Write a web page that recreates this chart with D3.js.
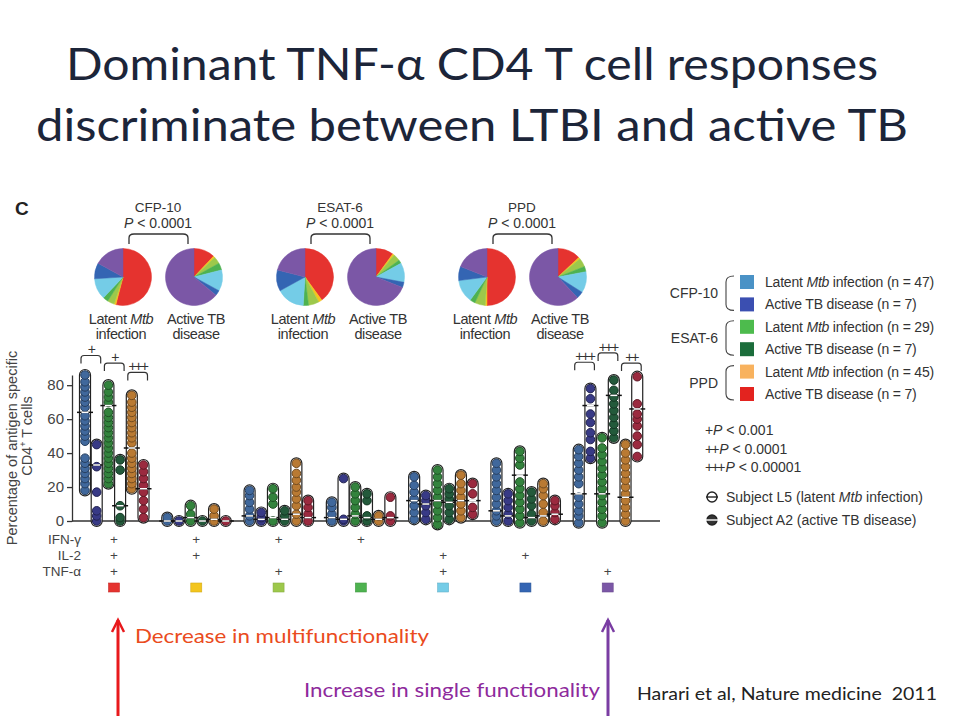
<!DOCTYPE html>
<html><head><meta charset="utf-8">
<script src="https://cdn.jsdelivr.net/npm/d3@7"></script>
<style>
body{margin:0;background:#fff}
svg{display:block}
text{font-family:"Liberation Sans",Arial,sans-serif}
</style>
</head><body>
<svg id="chart" width="960" height="720"></svg>
<script>
//## functional categories (x-axis groups) and their key squares
var groups = ["IFN+IL2+TNF", "IFN+IL2", "IFN+TNF", "IFN", "IL2+TNF", "IL2", "TNF"];
var groupColors = ["#e5332f", "#f3c51d", "#9dc84b", "#4eb250", "#74cce7", "#3465b3", "#7b57a6"];
var cytokines = ["IFN-γ", "IL-2", "TNF-α"];
var cytoPlus = [[1,1,1],[1,1,0],[1,0,1],[1,0,0],[0,1,1],[0,1,0],[0,0,1]];

//## six series per group: CFP-10 L/A, ESAT-6 L/A, PPD L/A
var dotColors = ["#40689c", "#383a86", "#33833d", "#235a3b", "#b97a33", "#9b2a3f"];
var legendColors = ["#4a92c6", "#3b4fb1", "#4dbb4d", "#1b6d3b", "#f8b25e", "#e3231f"];
var legendLabels = ["Latent Mtb infection (n = 47)", "Active TB disease (n = 7)",
                    "Latent Mtb infection (n = 29)", "Active TB disease (n = 7)",
                    "Latent Mtb infection (n = 45)", "Active TB disease (n = 7)"];
var antigens = ["CFP-10", "ESAT-6", "PPD"];

// [min, max, median] for each column, per group
var colRange = [
  [[18,86,64],[0,45,33],[22,80,68],[0,36,9],[19,74,43],[2,33,19]],
  [[0,2,0],[0,0,0],[0,9,2],[0,0,0],[0,7,1],[0,0,0]],
  [[0,18,3],[0,5,1],[0,19,2],[0,6,1],[0,34,4],[0,12,2]],
  [[0,11,2],[0,25,1],[0,20,3],[0,16,2],[0,3,1],[0,14,2]],
  [[1,26,12],[1,15,10],[-2,30,12],[1,19,11],[2,27,12],[4,22,12]],
  [[0,34,6],[0,16,3],[-1,41,27],[0,17,2],[0,22,3],[1,12,4]],
  [[-1,42,16],[37,78,68],[-1,49,16],[49,83,74],[0,45,14],[38,85,66]]
];
// visible dots for each column
var colPoints = [
  [[18,22,25,28,31,34,37,47,50,53,56,59,62,67,70,73,76,79,82,86],
   [0,3,6,17,32,45],
   [22,25,28,31,34,37,40,43,46,49,52,55,58,61,64,70,73,76,80],
   [0,2,9,30,36],
   [19,22,25,28,31,34,37,40,46,49,52,55,58,61,64,67,70,74],
   [2,7,12,17,21,25,29,33]],
  [[0,2],[0],[0,4,9],[0],[0,3,7],[0]],
  [[0,3,7,11,15,18],[0,2,5],[0,10,14,19],[0,3,6],[0,4,9,13,17,20,24,28,34],[0,4,8,12]],
  [[0,4,8,11],[0,1,25],[0,4,8,12,16,20],[0,3,12,16],[0,3],[0,3,14]],
  [[1,5,9,13,17,21,26],[1,5,9,12,15],[-2,2,6,10,14,18,22,26,30],[1,5,9,13,16,19],[2,6,10,14,18,22,27],[4,8,16,22]],
  [[0,3,6,10,14,18,22,26,30,34],[0,4,8,12,16],[-1,3,7,11,15,19,23,33,37,41],[0,4,9,13,17],[0,5,10,15,19,22],[1,5,9,12]],
  [[-1,3,6,10,14,22,26,30,34,38,42],[37,41,48,52,58,63,72,78],[-1,3,7,11,15,19,23,27,31,35,39,43,49],
   [49,53,57,61,65,69,73,77,83],[0,4,8,12,16,20,24,28,32,36,40,45],[38,45,50,56,60,63,69,85]]
];
// significance brackets: group, first column, label, level (in % units)
var sigGroup = [0, 0, 0, 6, 6, 6];
var sigCol = [0, 2, 4, 0, 2, 4];
var sigLabel = ["+", "+", "+++", "+++", "+++", "++"];
var sigLevel = [97.5, 93, 87.5, 93.5, 99, 93];

// pie shares, in category order (red, yellow, light green, green, cyan, blue, purple)
var pieLatent = [[54,1,4,3,12,9,17],[40,2,6,3,16,12,21],[50,1,6,3,13,8,19]];
var pieActive = [[12,1,4,4,12,3,64],[10,1,4,2,11,3,69],[13,1,5,3,12,4,62]];

var pValues = ["P < 0.001", "P < 0.0001", "P < 0.00001"];

var svg = d3.select("#chart");

//## title
var title = svg.append("g")
    .attr("font-family", "Lato, 'Open Sans', sans-serif")
    .attr("fill", "#1c2539")
    .attr("font-size", 45)
    .attr("text-anchor", "middle");
title.append("text").attr("x", 472).attr("y", 80)
    .attr("textLength", 812).attr("lengthAdjust", "spacingAndGlyphs")
    .style("font-family", "inherit")
    .text("Dominant TNF-α CD4 T cell responses");
title.append("text").attr("x", 472).attr("y", 141)
    .attr("textLength", 872).attr("lengthAdjust", "spacingAndGlyphs")
    .style("font-family", "inherit")
    .text("discriminate between LTBI and active TB");

svg.append("text").attr("x", 15).attr("y", 215)
    .attr("font-size", 19).attr("font-weight", "bold").attr("fill", "#222")
    .text("C");

//## pies
var pieX = d3.scalePoint().domain(antigens).range([158, 522]);
var pie = d3.pie().sort(null).value(function(d) { return d; });
var arc = d3.arc().innerRadius(0).outerRadius(28.5);
var pieCy = 277;

antigens.forEach(function(a, i) {
    var cxA = pieX(a);
    var g = svg.append("g").attr("fill", "#333").attr("font-size", 13.5).attr("text-anchor", "middle");
    g.append("text").attr("x", cxA).attr("y", 212).text(a);
    var pt = g.append("text").attr("x", cxA).attr("y", 228).attr("font-size", 14);
    pt.append("tspan").attr("font-style", "italic").text("P");
    pt.append("tspan").text(" < 0.0001");
    // bracket
    var x0 = cxA - 29, x1 = cxA + 30;
    g.append("path")
        .attr("d", "M" + x0 + ",244 L" + x0 + ",238 Q" + x0 + ",234 " + (x0 + 5) + ",234 L" + (x1 - 5) + ",234 Q" + x1 + ",234 " + x1 + ",238 L" + x1 + ",244")
        .attr("fill", "none").attr("stroke", "#333").attr("stroke-width", 1.3);

    [pieLatent[i], pieActive[i]].forEach(function(shares, k) {
        var px = cxA + (k == 0 ? -35 : 36);
        svg.append("g").attr("transform", "translate(" + px + "," + pieCy + ")")
            .selectAll("path").data(pie(shares)).enter().append("path")
            .attr("d", arc)
            .attr("fill", function(d, j) { return groupColors[j]; })
            .attr("stroke", function(d, j) { return groupColors[j]; })
            .attr("stroke-width", 0.5);
        var lx = px + (k == 0 ? -2 : 2);
        var t1 = g.append("text").attr("x", lx).attr("y", 324).attr("font-size", 14.5).attr("letter-spacing", -0.4);
        var t2 = g.append("text").attr("x", lx).attr("y", 339).attr("font-size", 14.5).attr("letter-spacing", -0.4);
        if (k == 0) {
            t1.append("tspan").text("Latent ");
            t1.append("tspan").attr("font-style", "italic").text("Mtb");
            t2.text("infection");
        } else {
            t1.text("Active TB");
            t2.text("disease");
        }
    });
});

//## scatter columns
var y = d3.scaleLinear().domain([0, 86]).range([521, 375]);
var gx = d3.scaleBand().domain(groups).range([78, 654]);
var cx = d3.scalePoint().domain(d3.range(6)).range([7, 65.5]);
function colX(g, c) { return gx(groups[g]) + cx(c); }

var axis = svg.append("g").attr("transform", "translate(72,0)")
    .call(d3.axisLeft(y).tickValues([0, 20, 40, 60, 80]).tickSize(5).tickSizeOuter(0));
axis.select(".domain").attr("stroke", "#333").attr("stroke-width", 1.3);
axis.selectAll(".tick line").attr("stroke", "#333").attr("stroke-width", 1.3);
axis.selectAll(".tick text").attr("font-size", 15).attr("fill", "#444")
    .attr("font-family", "'Liberation Sans', Arial, sans-serif");

svg.append("line").attr("x1", 72).attr("x2", 660).attr("y1", y(0)).attr("y2", y(0))
    .attr("stroke", "#333").attr("stroke-width", 1.4);

var ytitle = svg.append("g").attr("font-size", 14.5).attr("fill", "#444").attr("text-anchor", "middle");
ytitle.append("text").attr("transform", "translate(17,448) rotate(-90)").text("Percentage of antigen specific");
var yt2 = ytitle.append("text").attr("transform", "translate(32,436) rotate(-90)");
yt2.append("tspan").text("CD4");
yt2.append("tspan").attr("font-size", 9).attr("dy", -6).text("+");
yt2.append("tspan").attr("dy", 6).text(" T cells");

var cap = 5.5, dotR = 4.3;
colRange.forEach(function(cols, g) {
    cols.forEach(function(r, c) {
        var x = colX(g, c);
        var col = svg.append("g");
        col.append("rect")
            .attr("x", x - cap).attr("width", cap * 2)
            .attr("y", y(r[1]) - cap).attr("height", y(r[0]) - y(r[1]) + cap * 2)
            .attr("rx", cap).attr("ry", cap)
            .attr("fill", "#fff").attr("stroke", "#222").attr("stroke-width", 1.2);
        col.selectAll("circle").data(colPoints[g][c]).enter().append("circle")
            .attr("cx", x).attr("cy", function(d) { return y(d); })
            .attr("r", dotR)
            .attr("fill", dotColors[c])
            .attr("stroke", d3.rgb(dotColors[c]).darker(1.4).toString())
            .attr("stroke-width", 1);
        col.append("line")
            .attr("x1", x - 8).attr("x2", x + 8).attr("y1", y(r[2])).attr("y2", y(r[2]))
            .attr("stroke", "#111").attr("stroke-width", 1.5);
        col.append("line")
            .attr("x1", x - 3.5).attr("x2", x + 3.5).attr("y1", y(r[2])).attr("y2", y(r[2]))
            .attr("stroke", "#fff").attr("stroke-width", 1.5);
    });
});

//## significance brackets
sigGroup.forEach(function(g, i) {
    var x0 = colX(g, sigCol[i]) - 4, x1 = colX(g, sigCol[i] + 1) + 4;
    var yb = y(sigLevel[i]);
    svg.append("path")
        .attr("d", "M" + x0 + "," + (yb + 8) + " L" + x0 + "," + (yb + 3) + " Q" + x0 + "," + yb + " " + (x0 + 3) + "," + yb +
              " L" + (x1 - 3) + "," + yb + " Q" + x1 + "," + yb + " " + x1 + "," + (yb + 3) + " L" + x1 + "," + (yb + 8))
        .attr("fill", "none").attr("stroke", "#333").attr("stroke-width", 1.2);
    svg.append("text").attr("x", (x0 + x1) / 2).attr("y", yb - 1)
        .attr("text-anchor", "middle").attr("font-size", 14).attr("fill", "#333")
        .attr("letter-spacing", -2)
        .text(sigLabel[i]);
});

//## cytokine table under the axis
var rowY = d3.scalePoint().domain(cytokines).range([539, 571]);
cytokines.forEach(function(c, k) {
    svg.append("text").attr("x", 81).attr("y", rowY(c) + 5)
        .attr("text-anchor", "end").attr("font-size", 13.5).attr("fill", "#444").text(c);
});
groups.forEach(function(gname, g) {
    var mx = gx(gname) + 36;
    cytoPlus[g].forEach(function(p, k) {
        if (p) {
            svg.append("text").attr("x", mx).attr("y", rowY(cytokines[k]) + 5)
                .attr("text-anchor", "middle").attr("font-size", 13.5).attr("fill", "#444").text("+");
        }
    });
    svg.append("rect").attr("x", mx - 5.5).attr("y", 583).attr("width", 11).attr("height", 9)
        .attr("fill", groupColors[g]).attr("stroke", d3.rgb(groupColors[g]).darker(0.4).toString())
        .attr("stroke-width", 0.6);
});

//## legend
var legY = d3.scalePoint().domain(d3.range(6)).range([282, 394]);
var leg = svg.append("g").attr("font-size", 14).attr("fill", "#333");
antigens.forEach(function(a, i) {
    var ya = legY(i * 2), yb = legY(i * 2 + 1);
    leg.append("text").attr("x", 718).attr("y", (ya + yb) / 2 + 5).attr("text-anchor", "end").text(a);
    leg.append("path")
        .attr("d", "M734," + (ya - 6) + " Q726," + (ya - 6) + " 726," + ya + " L726," + yb + " Q726," + (yb + 6) + " 734," + (yb + 6))
        .attr("fill", "none").attr("stroke", "#444").attr("stroke-width", 1.1);
});
legendLabels.forEach(function(l, i) {
    var yy = legY(i);
    leg.append("rect").attr("x", 740).attr("y", yy - 7).attr("width", 14).attr("height", 14)
        .attr("fill", legendColors[i]);
    var t = leg.append("text").attr("x", 765).attr("y", yy + 5).attr("letter-spacing", -0.2);
    var parts = l.split("Mtb");
    t.append("tspan").text(parts[0]);
    if (parts.length > 1) {
        t.append("tspan").attr("font-style", "italic").text("Mtb");
        t.append("tspan").text(parts[1]);
    }
});
pValues.forEach(function(p, i) {
    var t = leg.append("text").attr("x", 705).attr("y", 435 + i * 18.5);
    t.append("tspan").attr("letter-spacing", -2).text("+".repeat(i + 1) + " ");
    t.append("tspan").attr("font-style", "italic").text("P");
    t.append("tspan").text(p.slice(1));
});
// subject markers
[["Subject L5 (latent ", "Mtb", " infection)"], ["Subject A2 (active TB disease)", "", ""]].forEach(function(s, i) {
    var yy = 497 + i * 23;
    leg.append("circle").attr("cx", 712).attr("cy", yy).attr("r", 5)
        .attr("fill", i == 0 ? "#fff" : "#333").attr("stroke", "#222").attr("stroke-width", 1.4);
    leg.append("line").attr("x1", 706).attr("x2", 718).attr("y1", yy).attr("y2", yy)
        .attr("stroke", i == 0 ? "#222" : "#fff").attr("stroke-width", 1.4);
    var t = leg.append("text").attr("x", 726).attr("y", yy + 5);
    t.append("tspan").text(s[0]);
    if (s[1]) {
        t.append("tspan").attr("font-style", "italic").text(s[1]);
        t.append("tspan").text(s[2]);
    }
});

//## arrows and notes
var notes = svg.append("g").attr("font-family", "Lato, 'Open Sans', sans-serif");
function upArrow(x, color) {
    notes.append("line").attr("x1", x).attr("x2", x).attr("y1", 716).attr("y2", 620)
        .attr("stroke", color).attr("stroke-width", 3);
    notes.append("path").attr("d", "M" + (x - 6) + ",632 L" + x + ",620 L" + (x + 6) + ",632")
        .attr("fill", "none").attr("stroke", color).attr("stroke-width", 2.5);
}
upArrow(118, "#e8191c");
upArrow(608, "#7a3da3");
notes.append("text").attr("x", 135).attr("y", 643).attr("font-size", 19).attr("fill", "#ea4b20")
    .attr("textLength", 294).attr("lengthAdjust", "spacingAndGlyphs").style("font-family", "inherit")
    .text("Decrease in multifunctionality");
notes.append("text").attr("x", 304).attr("y", 697).attr("font-size", 19).attr("fill", "#8e2a9c")
    .attr("textLength", 296).attr("lengthAdjust", "spacingAndGlyphs").style("font-family", "inherit")
    .text("Increase in single functionality");
notes.append("text").attr("x", 637).attr("y", 700).attr("font-size", 18).attr("fill", "#222")
    .attr("textLength", 300).attr("lengthAdjust", "spacingAndGlyphs").style("font-family", "inherit")
    .attr("xml:space", "preserve")
    .text("Harari et al, Nature medicine  2011");
</script>
</body></html>
